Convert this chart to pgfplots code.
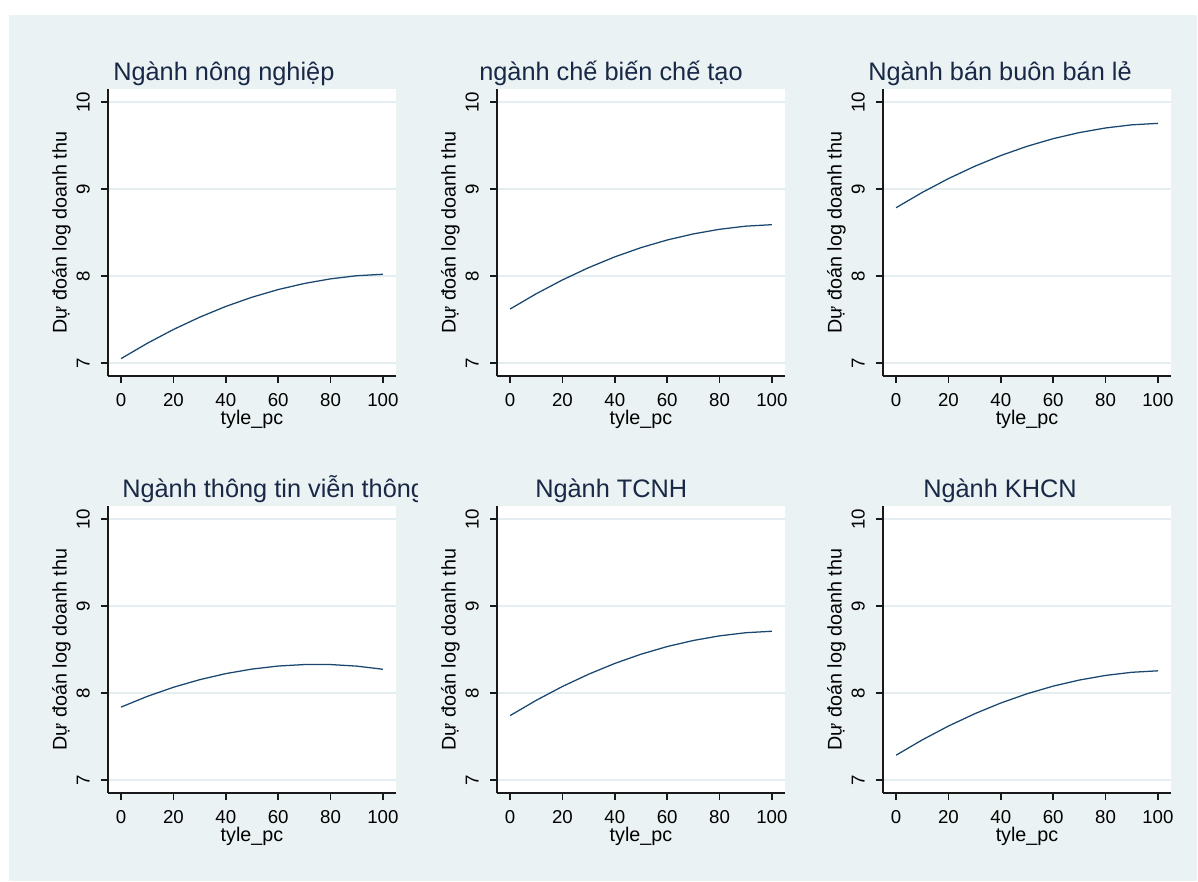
\documentclass[border=0pt]{standalone}
\usepackage{fontspec}
\setmainfont{Liberation Sans}
\usepackage{pgfplots}
\pgfplotsset{compat=1.18}
\usepackage{pgfplotstable}

\definecolor{bgreg}{RGB}{234,242,243}
\definecolor{gridc}{RGB}{228,237,240}
\definecolor{navyline}{RGB}{26,71,111}
\definecolor{titlec}{RGB}{25,40,70}
\definecolor{axisc}{RGB}{25,25,25}

% predicted log revenue by share (tyle_pc), one table per sector
\pgfplotstableread{
x y
0   7.050
10  7.226
20  7.385
30  7.526
40  7.650
50  7.756
60  7.844
70  7.914
80  7.967
90  8.003
100 8.020
}\nongnghiep
\pgfplotstableread{
x y
0   7.620
10  7.796
20  7.955
30  8.096
40  8.220
50  8.326
60  8.414
70  8.484
80  8.537
90  8.573
100 8.590
}\chebien
\pgfplotstableread{
x y
0   8.785
10  8.961
20  9.120
30  9.261
40  9.385
50  9.491
60  9.579
70  9.649
80  9.702
90  9.738
100 9.755
}\banbuon
\pgfplotstableread{
x y
0   7.838
10  7.961
20  8.066
30  8.153
40  8.223
50  8.275
60  8.310
70  8.327
80  8.327
90  8.309
100 8.273
}\thongtin
\pgfplotstableread{
x y
0   7.740
10  7.916
20  8.075
30  8.216
40  8.340
50  8.446
60  8.534
70  8.604
80  8.657
90  8.693
100 8.710
}\tcnh
\pgfplotstableread{
x y
0   7.285
10  7.461
20  7.620
30  7.761
40  7.885
50  7.991
60  8.079
70  8.149
80  8.202
90  8.238
100 8.255
}\khcn

\pgfplotsset{
  panel/.style={
    scale only axis, width=216pt, height=215.25pt,
    xmin=-5, xmax=105, ymin=6.85, ymax=10.15,
    axis lines=left,
    axis line style={-, line width=1.3pt, color=axisc},
    xtick={0,20,...,100}, ytick={7,8,9,10},
    tick align=outside, major tick length=5.25pt,
    tick style={line width=1.1pt, color=axisc},
    ymajorgrids, grid style={line width=1.1pt, color=gridc},
    axis background/.style={fill=white},
    /pgf/number format/assume math mode=true,
    ticklabel style={font=\fontsize{14}{16}\selectfont, text=black},
    xticklabel style={anchor=north, inner sep=0pt, yshift=-7.5pt},
    yticklabel style={rotate=90, anchor=south, inner sep=0pt, yshift=8.25pt},
    xlabel={tyle\_pc}, ylabel={Dự đoán log doanh thu},
    label style={font=\fontsize{14.8}{17}\selectfont, text=black, inner sep=0pt},
    xlabel style={at={([yshift=-36pt]axis description cs:0.5,0)}, anchor=base},
    ylabel style={at={([xshift=-31pt]axis description cs:0,0.5)}, anchor=base},
  },
  curve/.style={color=navyline, line width=0.95pt, no marks},
}

\begin{document}
\begin{tikzpicture}
% graph region
\fill[white] (0pt,0pt) rectangle (898.5pt,-660.75pt);
\fill[bgreg] (6.75pt,-11.25pt) rectangle (897.75pt,-660.75pt);

% top row
\begin{axis}[panel, at={(81pt,-282pt)}, anchor=south west]
\addplot[curve] table[x=x,y=y] {\nongnghiep};
\end{axis}
\begin{axis}[panel, at={(372.75pt,-282pt)}, anchor=south west]
\addplot[curve] table[x=x,y=y] {\chebien};
\end{axis}
\begin{axis}[panel, at={(662.25pt,-282pt)}, anchor=south west]
\addplot[curve] table[x=x,y=y] {\banbuon};
\end{axis}

% bottom row
\begin{axis}[panel, at={(81pt,-594.75pt)}, anchor=south west]
\addplot[curve] table[x=x,y=y] {\thongtin};
\end{axis}
\begin{axis}[panel, at={(372.75pt,-594.75pt)}, anchor=south west]
\addplot[curve] table[x=x,y=y] {\tcnh};
\end{axis}
\begin{axis}[panel, at={(662.25pt,-594.75pt)}, anchor=south west]
\addplot[curve] table[x=x,y=y] {\khcn};
\end{axis}

% panel titles
\tikzset{ptitle/.style={anchor=base west, inner sep=0pt, text=titlec,
  font=\fontsize{19}{22}\selectfont}}
\node[ptitle] at (84.75pt,-60pt) {Ngành nông nghiệp};
\node[ptitle] at (359.25pt,-60pt) {ngành chế biến chế tạo};
\node[ptitle] at (651pt,-60pt) {Ngành bán buôn bán lẻ};
\begin{scope}
  \clip (0pt,-330pt) rectangle (312.75pt,-390pt);
  \node[ptitle] at (91.5pt,-372.75pt) {Ngành thông tin viễn thông};
\end{scope}
\node[ptitle] at (401.25pt,-372.75pt) {Ngành TCNH};
\node[ptitle] at (692.25pt,-372.75pt) {Ngành KHCN};

\pgfresetboundingbox
\useasboundingbox (0pt,0pt) rectangle (898.5pt,-660.75pt);
\end{tikzpicture}
\end{document}
